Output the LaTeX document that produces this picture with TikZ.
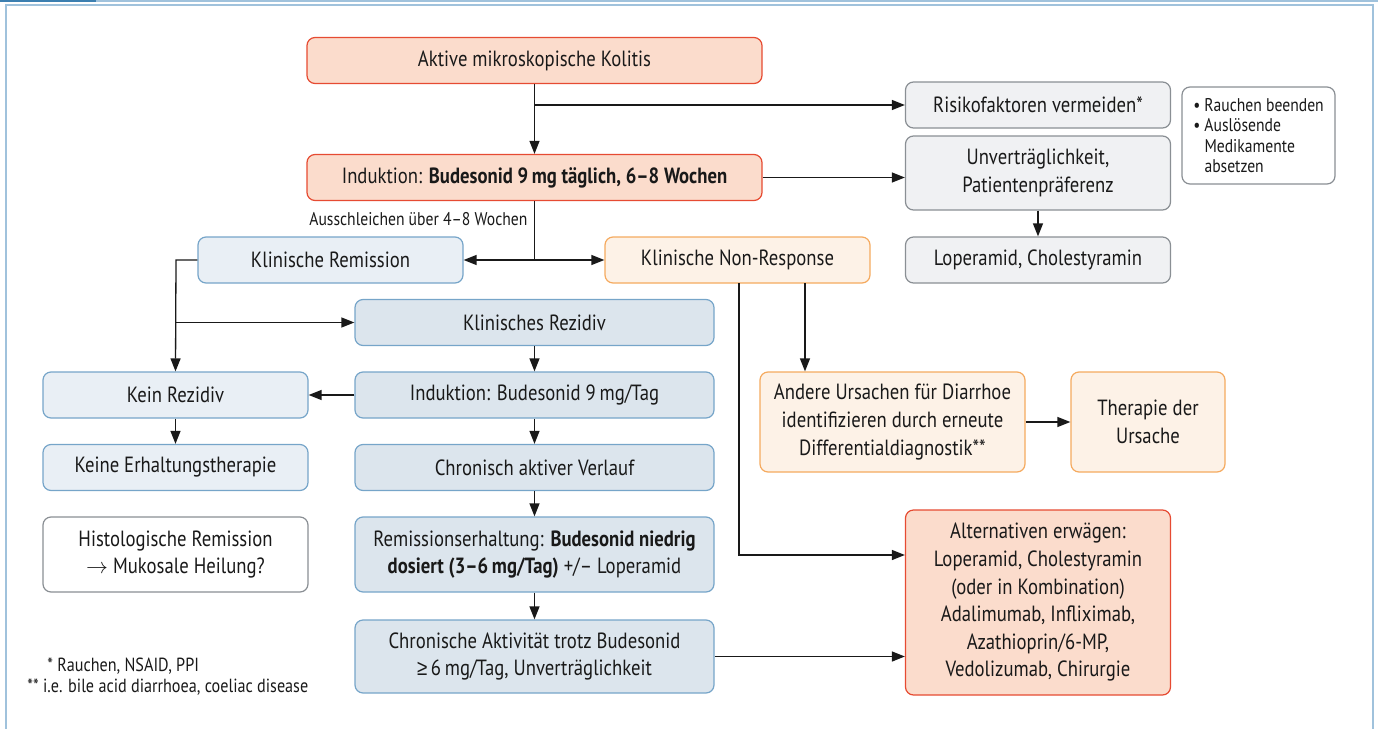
\documentclass[tikz,border=0pt]{standalone}
\usepackage{fontspec}
\setmainfont{PT Sans}[FakeStretch=0.85]
\newfontfamily\symfont{Liberation Sans}[FakeStretch=0.85]
\usepackage{tikz}
\usetikzlibrary{arrows.meta}
\definecolor{kolitisred}{RGB}{230,75,50}
\definecolor{kolitisfill}{RGB}{251,220,204}
\definecolor{greyline}{RGB}{138,143,148}
\definecolor{greyfill}{RGB}{240,241,243}
\definecolor{remline}{RGB}{118,165,201}
\definecolor{remfill}{RGB}{233,239,245}
\definecolor{rezfill}{RGB}{220,229,237}
\definecolor{nonline}{RGB}{245,170,95}
\definecolor{nonfill}{RGB}{253,242,231}
\definecolor{framedark}{RGB}{60,127,176}
\definecolor{framelight}{RGB}{160,194,220}
\newcommand{\mainsize}{\fontsize{11}{13.8}\selectfont}
\newcommand{\smallsize}{\fontsize{9.2}{10.2}\selectfont}
\newcommand{\notesize}{\fontsize{9.5}{10.5}\selectfont}
\newcommand{\widthtop}{227.5pt}
\newcommand{\widthside}{132.5pt}
\newcommand{\widthmid}{179.5pt}
\newcommand{\heightone}{23pt}
\tikzset{
    common/.style={draw, rectangle, rounded corners=4pt, line width=0.6pt, align=center, inner sep=0pt, font=\mainsize, text=black!90},
    topbox/.style={minimum width=\widthtop, minimum height=\heightone},
    sidebox/.style={minimum width=\widthside, minimum height=\heightone},
    midbox/.style={minimum width=\widthmid, minimum height=\heightone},
    kolitis/.style={common, draw=kolitisred, fill=kolitisfill},
    neutral/.style={common, draw=greyline, fill=greyfill},
    hint/.style={common, draw=greyline, fill=white},
    remission/.style={common, draw=remline, fill=remfill},
    relapse/.style={common, draw=remline, fill=rezfill},
    nonresponse/.style={common, draw=nonline, fill=nonfill},
    footnote/.style={anchor=west, inner sep=0pt, font=\notesize, text=black!90},
    link/.style={line width=0.65pt, black!90},
    flow/.style={link, -{Triangle[length=6.5pt,width=5pt]}}
}
\begin{document}
\begin{tikzpicture}[x=0.5pt, y=-0.5pt]
    \useasboundingbox (0,0) rectangle (1378,729);
    \fill[framelight] (96,0) rectangle (1378,1.5);
    \fill[framedark] (0,0) rectangle (96,2);
    \draw[framelight, line width=1pt] (6,729) -- (6,5) -- (1373,5) -- (1373,729);

    \node[kolitis, topbox] (aktiv) at (534.5,60.5) {Aktive mikroskopische Kolitis};
    \node[kolitis, topbox] (induktion) at (534.5,177.5) {Induktion: \textbf{Budesonid 9\,mg täglich, 6--8 Wochen}};
    \node[neutral, sidebox] (risiko) at (1038,105) {Risikofaktoren vermeiden*};
    \node[hint, minimum width=76.5pt, minimum height=48.5pt, font=\smallsize, align=left] (stopp) at (1258.5,135.5)
        {\textbullet~Rauchen beenden\\\textbullet~Auslösende\\\phantom{\textbullet~}Medikamente\\\phantom{\textbullet~}absetzen};
    \node[neutral, sidebox, minimum height=37pt] (unvertr) at (1038,173) {Unverträglichkeit,\\Patientenpräferenz};
    \node[neutral, sidebox] (lopchol) at (1038,260) {Loperamid, Cholestyramin};
    \node[footnote, font=\smallsize] (ausschl) at (309,219) {Ausschleichen über 4--8 Wochen};

    \node[remission, sidebox] (klinrem) at (330.5,260) {Klinische Remission};
    \node[nonresponse, sidebox] (klinnon) at (737.5,260) {Klinische Non-Response};
    \node[relapse, midbox] (klinrez) at (534.5,322.5) {Klinisches Rezidiv};
    \node[remission, sidebox] (keinrez) at (175.5,395) {Kein Rezidiv};
    \node[relapse, midbox] (indtag) at (534.5,395) {Induktion: Budesonid 9\,mg/Tag};
    \node[remission, sidebox] (keineerh) at (175.5,467.5) {Keine Erhaltungstherapie};
    \node[relapse, midbox] (chronakt) at (534.5,467.5) {Chronisch aktiver Verlauf};
    \node[hint, sidebox, minimum height=37.5pt] (histo) at (175.5,554.5) {Histologische Remission\\$\rightarrow$ Mukosale Heilung?};
    \node[relapse, midbox, minimum height=37.5pt] (erhalt) at (534.5,554.5)
        {Remissionserhaltung: \textbf{Budesonid niedrig}\\\textbf{dosiert (3--6\,mg/Tag)} +/-- Loperamid};
    \node[relapse, midbox, minimum height=36.5pt] (trotz) at (534.5,656.5)
        {Chronische Aktivität trotz Budesonid\\{\symfont ≥}\,6\,mg/Tag, Unverträglichkeit};

    \node[nonresponse, sidebox, minimum height=50pt] (andere) at (892.5,422)
        {Andere Ursachen für Diarrhoe\\identifizieren durch erneute\\Differentialdiagnostik**};
    \node[nonresponse, minimum width=77pt, minimum height=50pt] (therapie) at (1148,422) {Therapie der\\Ursache};
    \node[kolitis, sidebox, minimum height=92.5pt] (altern) at (1038,602.5)
        {Alternativen erwägen:\\Loperamid, Cholestyramin\\(oder in Kombination)\\Adalimumab, Infliximab,\\Azathioprin/6-MP,\\Vedolizumab, Chirurgie};

    \node[footnote] (fn1) at (47,666) {* Rauchen, NSAID, PPI};
    \node[footnote] (fn2) at (27,687) {** i.e. bile acid diarrhoea, coeliac disease};

    \coordinate (aktsplit) at (534.5,105);
    \coordinate (indsplit) at (534.5,260);
    \coordinate (remturn) at (176,260);
    \coordinate (remsplit) at (176,322.5);
    \coordinate (nonleft) at (739,283);
    \coordinate (nonturn) at (739,555);
    \coordinate (nonright) at (805,283);

    \draw[flow] (aktiv) -- (induktion);
    \draw[flow] (aktsplit) -- (risiko.west);
    \draw[flow] (induktion.east) -- (induktion.east -| unvertr.west);
    \draw[flow] (unvertr) -- (lopchol);
    \draw[link] (induktion) -- (indsplit);
    \draw[flow] (indsplit) -- (klinrem.east);
    \draw[flow] (indsplit) -- (klinnon.west);
    \draw[flow] (klinrem.west) -- (remturn) -- (keinrez.north);
    \draw[flow] (remsplit) -- (klinrez.west);
    \draw[flow] (klinrez) -- (indtag);
    \draw[flow] (indtag) -- (keinrez);
    \draw[flow] (keinrez) -- (keineerh);
    \draw[flow] (indtag) -- (chronakt);
    \draw[flow] (chronakt) -- (erhalt);
    \draw[flow] (erhalt) -- (trotz);
    \draw[flow] (trotz.east) -- (trotz.east -| altern.west);
    \draw[flow] (nonleft) -- (nonturn) -- (nonturn -| altern.west);
    \draw[flow] (nonright) -- (nonright |- andere.north);
    \draw[flow] (andere) -- (therapie);
\end{tikzpicture}
\end{document}
